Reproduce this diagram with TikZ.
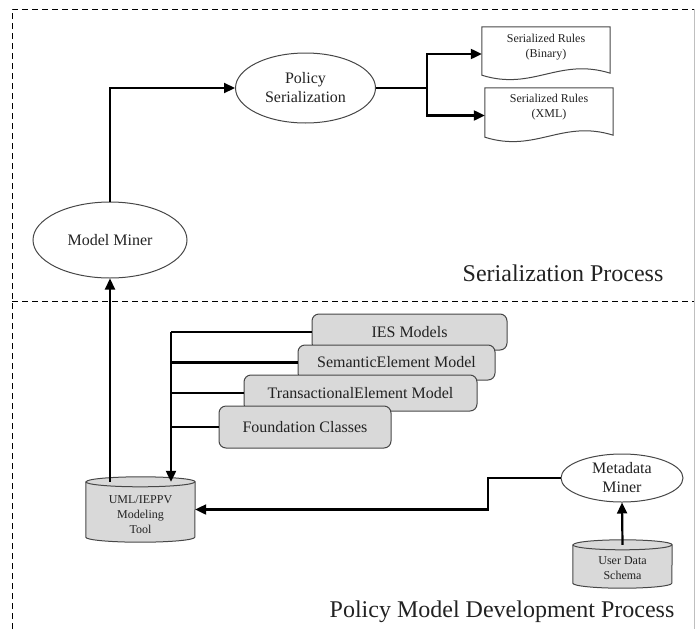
\documentclass[tikz,border=0pt]{standalone}
\usepackage{fontspec}
\setmainfont{Liberation Serif}
\usetikzlibrary{arrows.meta,shapes.geometric,calc}

\definecolor{boxgray}{HTML}{D9D9D9}
\definecolor{inkline}{HTML}{474747}
\definecolor{inktext}{HTML}{222222}

% document outline with a wavy bottom edge, drawn round a node
\newcommand{\docoutline}[1]{%
  \draw[outline, fill=white] (#1.north west) -- (#1.north east) -- ($(#1.south east)+(0,-8)$)
    .. controls ($(#1.south west)+(77,-24)$) and ($(#1.south west)+(51,10)$) ..
    ($(#1.south west)+(0,-6)$) -- cycle;}

% database drum drawn round a node; #2 = horizontal radius in pt
\newcommand{\drum}[2]{%
  \path[outline, fill=boxgray] ($(#1.north west)+(0,5)$) -- ($(#1.south west)+(0,-5)$)
    arc[start angle=180, end angle=360, x radius=#2pt, y radius=5pt]
    -- ($(#1.north east)+(0,5)$)
    arc[start angle=0, end angle=180, x radius=#2pt, y radius=5pt] -- cycle;
  \draw[outline] ($(#1.north west)+(0,5)$)
    arc[start angle=180, end angle=360, x radius=#2pt, y radius=5pt];}

\begin{document}
\begin{tikzpicture}[x=1pt, y=-1pt,
  outline/.style={draw=inkline, line width=1pt},
  oval/.style={ellipse, outline, fill=white, text=inktext, align=center, inner sep=0pt,
    font=\fontsize{16}{19}\selectfont},
  layer/.style={rounded corners=7pt, outline, fill=boxgray, text=inktext, inner sep=0pt,
    font=\fontsize{16}{19}\selectfont},
  shapebox/.style={draw=none, inner sep=0pt},
  smalltext/.style={text=inktext, align=center, inner sep=0pt, font=\fontsize{12}{15}\selectfont},
  titletext/.style={text=inktext, inner sep=0pt, font=\fontsize{24}{28}\selectfont},
  conn/.style={line width=2.2pt, black},
  arr/.style={conn, -{Triangle[length=11pt, width=10pt]}},
  frameline/.style={line width=0.8pt, black, dash pattern=on 6pt off 4pt}]

\useasboundingbox (0,0) rectangle (695,629);

% process frames
\draw[frameline] (12,629) -- (12,9) -- (695,9);
\draw[frameline] (12,301) -- (695,301);
\draw[line width=0.6pt, black!25] (694,9) -- (694,629);

% ---------- serialization process ----------
\node[oval, minimum width=154pt, minimum height=76pt] (mm) at (110,240) {Model Miner};
\node[oval, minimum width=140pt, minimum height=70pt] (ps) at (305.5,88) {Policy\\Serialization};

\node[shapebox, minimum width=128pt, minimum height=54pt] (bin) at (546,54) {};
\docoutline{bin}
\node[smalltext] (bintxt) at ($(bin.center)+(0,-7)$) {Serialized Rules\\(Binary)};

\node[shapebox, minimum width=128pt, minimum height=55pt] (xml) at (549,115.5) {};
\docoutline{xml}
\node[smalltext] (xmltxt) at ($(xml.center)+(0,-8)$) {Serialized Rules\\(XML)};

\node[titletext] (sertitle) at (563,273) {Serialization Process};

\coordinate (split) at (427,88);
\draw[arr] (mm.north) |- (ps.west);
\draw[conn] (ps.east) -- (split);
\draw[arr] (split) |- (bin.west);
\draw[arr] (split) |- (xml.west);

% ---------- policy model development process ----------
\node[layer, minimum width=195pt, minimum height=36pt] (ies) at (409.5,332) {IES Models};
\node[layer, minimum width=197pt, minimum height=35pt] (sem) at (396.5,362.5) {SemanticElement Model};
\node[layer, minimum width=233pt, minimum height=36pt] (trans) at (360.5,393) {TransactionalElement Model};
\node[layer, minimum width=172pt, minimum height=42pt] (found) at (305,427) {Foundation Classes};

\node[shapebox, minimum width=109pt, minimum height=65pt] (uml) at (140.5,509.5) {};
\drum{uml}{54.5}
\node[smalltext] (umltxt) at ($(uml.center)+(0,5)$) {UML/IEPPV\\Modeling\\Tool};
\coordinate (umltop) at ($(uml.north)+(0,5)$);

\node[oval, minimum width=122pt, minimum height=48pt] (md) at (622,478) {Metadata\\Miner};

\node[shapebox, minimum width=99pt, minimum height=48pt] (uds) at (622.5,564) {};
\drum{uds}{49.5}
\node[smalltext] (udstxt) at ($(uds.center)+(0,4.5)$) {User Data\\Schema};
\coordinate (udstop) at ($(uds.north)+(0,5)$);

\node[titletext] (devtitle) at (502,612) {Policy Model Development Process};

% model layers feed the modeling tool
\coordinate (bus) at (171,332);
\draw[conn] (ies.west) -- (ies.west -| bus);
\draw[conn] (sem.west) -- (sem.west -| bus);
\draw[conn] (trans.west) -- (trans.west -| bus);
\draw[conn] (found.west) -- (found.west -| bus);
\draw[arr] (ies.west -| bus) -- (bus |- umltop);

\draw[arr] (umltop -| mm.south) -- (mm.south);

\coordinate (jog) at (488,478);
\draw[arr] (md.west) -- (jog) |- (uml.east);
\draw[arr] (udstop) -- (md.south);

\end{tikzpicture}
\end{document}
